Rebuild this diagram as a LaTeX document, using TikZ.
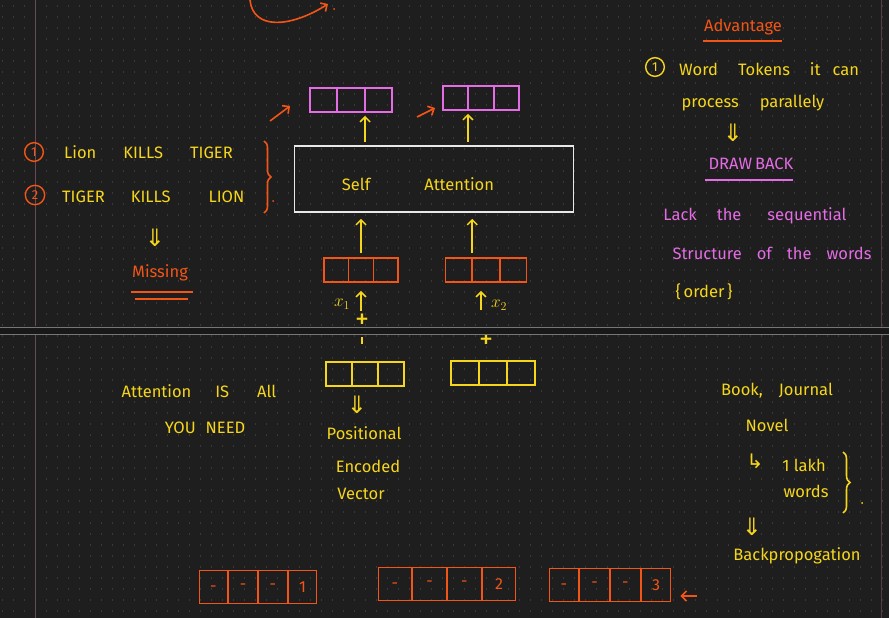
\documentclass[tikz,border=0pt]{standalone}
\usepackage{fontspec}
\setmainfont{Fira Sans}
\newfontfamily\symfont{DejaVu Sans}
\usetikzlibrary{positioning,arrows.meta,decorations.pathreplacing,shapes.multipart}
\definecolor{PadBg}{RGB}{30,30,30}
\definecolor{PadDot}{RGB}{56,56,56}
\definecolor{PadRule}{RGB}{118,118,118}
\definecolor{PadMargin}{RGB}{104,74,88}
\definecolor{PenYellow}{RGB}{246,214,28}
\definecolor{PenOrange}{RGB}{242,85,22}
\definecolor{PenPink}{RGB}{228,108,228}
\definecolor{PenWhite}{RGB}{232,232,232}

\begin{document}
\begin{tikzpicture}[
x=1pt,y=-1pt,
txt/.style={inner sep=0pt,text=PenYellow,font=\fontsize{16.5}{19}\selectfont},
otxt/.style={txt,text=PenOrange},
ptxt/.style={txt,text=PenPink},
dn/.style={txt,font=\symfont\fontsize{24}{26}\selectfont},
plus/.style={txt,font=\fontsize{28}{30}\selectfont},
vec/.style={rectangle split,rectangle split horizontal,rectangle split parts=3,draw,line width=1.8pt,inner sep=0pt,rectangle split empty part width=#1,rectangle split empty part height=12pt,rectangle split empty part depth=12pt},
vec/.default=20pt,
posvec/.style={rectangle split,rectangle split horizontal,rectangle split parts=4,draw=PenOrange,line width=1.7pt,text=PenOrange,text width=#1,align=center,inner xsep=3pt,inner ysep=10pt,text height=11pt,text depth=2pt,font=\fontsize{16}{18}\selectfont},
posvec/.default=22pt,
num/.style={circle,draw,line width=1.4pt,inner sep=3pt,font=\fontsize{13}{14}\selectfont},
yarrow/.style={-{Straight Barb[length=5pt,width=10pt]},line width=1.5pt,draw=PenYellow},
oarrow/.style={-{Straight Barb[length=5pt,width=10pt]},line width=1.6pt,draw=PenOrange},
uline/.style={line width=1.6pt},
curly/.style={decorate,decoration={brace,amplitude=7pt},line width=1.6pt}
]
% page
\useasboundingbox (0,0) rectangle (889,618);
\fill[PadBg] (0,0) rectangle (889,618);
\foreach \gy in {6,17,...,618}
  \draw[PadDot,line width=1.3pt,dash pattern=on 1.3pt off 9.7pt] (2,\gy) -- (889,\gy);
\draw[PadMargin,line width=1pt] (35,0) -- (35,326) (35,335) -- (35,618);
\draw[PadMargin!70!PadBg,line width=1pt] (881,0) -- (881,618);

% top stroke
\coordinate (tc0) at (250,0);
\coordinate (tc1) at (328,4);
\draw[oarrow] (tc0) .. controls (253,30) and (290,28) .. (tc1);
\fill[PenOrange] (334,9) circle (1pt);

% word order example
\node[num,draw=PenOrange,text=PenOrange] (c1) at (34,152) {1};
\node[txt,anchor=west] (s1) at (64,152) {Lion\hspace{27pt}KILLS\hspace{27pt}TIGER};
\node[num,draw=PenOrange,text=PenOrange] (c2) at (35,195) {2};
\node[txt,anchor=west] (s2) at (62,197) {TIGER\hspace{26pt}KILLS\hspace{38pt}LION};
\draw[curly,PenOrange] (264,141) -- (264,213);
\fill[PenOrange] (273,201) circle (1pt);
\node[dn] (d1) at (155,238) {⇓};
\node[otxt] (miss) at (160,273) {Missing};
\draw[uline,PenOrange] (131,292) -- (193,292);
\draw[uline,PenOrange] (135,299) -- (188,299);

% self attention block
\node[draw=PenWhite,line width=1.6pt,minimum width=279pt,minimum height=66pt,inner sep=0pt] (sa) at (434,179) {};
\node[txt] (satxt) at (418,184) {Self\hspace{54pt}Attention};
\node[vec=21pt,draw=PenPink] (pk1) at (351,100) {};
\node[vec=19pt,draw=PenPink] (pk2) at (481,98) {};
\draw[yarrow,shorten <=3pt,shorten >=3pt] (sa.north -| pk1.two split south) -- (pk1.two split south);
\draw[yarrow,shorten <=3pt,shorten >=3pt] (sa.north -| pk2.one split south) -- (pk2.one split south);
\coordinate (oa1) at (270,121);
\coordinate (ob1) at (290,106);
\draw[oarrow] (oa1) -- (ob1);
\coordinate (oa2) at (417,117);
\coordinate (ob2) at (435,108);
\draw[oarrow] (oa2) -- (ob2);

% inputs
\node[vec=18pt,draw=PenOrange] (or1) at (361,270) {};
\node[vec=20.5pt,draw=PenOrange] (or2) at (486,270) {};
\draw[yarrow,shorten <=4pt,shorten >=6pt] (or1.north) -- (or1.north |- sa.south);
\draw[yarrow,shorten <=4pt,shorten >=6pt] (or2.one split north) -- (or2.one split north |- sa.south);
\coordinate (x1foot) at (361,311);
\draw[yarrow,shorten >=8pt] (x1foot) -- (x1foot |- or1.south);
\node[txt] (x1) at (342,304) {$x_1$};
\coordinate (x2foot) at (481,310);
\draw[yarrow,shorten >=8pt] (x2foot) -- (x2foot |- or2.south);
\node[txt] (x2) at (499,305) {$x_2$};
\node[plus] (pl1) at (362,321) {+};
\draw[PenYellow,line width=1.4pt] (362,337) -- (362,344);
\node[plus] (pl2) at (486,341) {+};

% page break
\fill[PadBg!80!black] (0,327) rectangle (889,334);
\draw[PadRule,line width=1pt] (0,327) -- (889,327) (0,334) -- (889,334);

% positional vectors
\node[vec=19.5pt,draw=PenYellow] (yl1) at (365,374) {};
\node[vec=21.5pt,draw=PenYellow] (yl2) at (493,373) {};
\node[dn] (d2) at (357,405) {⇓};
\node[txt] (pos) at (364,433) {Positional};
\node[txt] (enc) at (368,466) {Encoded};
\node[txt] (vct) at (361,494) {Vector};

\node[txt] (aiayn) at (199,391) {Attention\hspace{24pt}IS\hspace{28pt}All};
\node[txt] (need) at (205,428) {YOU\hspace{10pt}NEED};

% advantage / drawback
\node[otxt] (adv) at (743,27) {Advantage};
\draw[uline,PenOrange] (703,41) -- (782,41);
\node[num,draw=PenYellow,text=PenYellow] (c3) at (655,67) {1};
\node[txt,anchor=west] (adv1) at (679,69) {Word\hspace{20pt}Tokens\hspace{20pt}it\hspace{12pt}can};
\node[txt] (adv2) at (753,103) {process\hspace{21pt}parallely};
\node[dn] (d3) at (733,133) {⇓};
\node[ptxt] (dback) at (751,164) {DRAW\hspace{3pt}BACK};
\draw[uline,PenPink] (705,180) -- (793,180);
\node[ptxt] (lack1) at (755,216) {Lack\hspace{20pt}the\hspace{26pt}sequential};
\node[ptxt] (lack2) at (772,253) {Structure\hspace{15pt}of\hspace{15pt}the\hspace{15pt}words};
\node[txt] (order) at (704,292) {\{\,order\,\}};

% long documents
\node[txt] (book) at (777,391) {Book,\hspace{16pt}Journal};
\node[txt] (novel) at (767,425) {Novel};
\node[txt,font=\symfont\fontsize{20}{22}\selectfont] (hook) at (755,461) {↳};
\node[txt] (lakh) at (804,465) {1 lakh};
\node[txt] (words) at (806,491) {words};
\draw[curly,PenYellow] (843,452) -- (843,513);
\fill[PenYellow] (862,503) circle (1pt);
\node[dn] (d4) at (752,527) {⇓};
\node[txt] (bprop) at (797,556) {Backpropogation};

% position slots
\node[posvec] (pe1) at (258,587) {-\nodepart{two}-\nodepart{three}-\nodepart{four}1};
\node[posvec=27pt] (pe2) at (447,584) {-\nodepart{two}-\nodepart{three}-\nodepart{four}2};
\node[posvec=23pt] (pe3) at (610,585) {-\nodepart{two}-\nodepart{three}-\nodepart{four}3};
\coordinate (cur) at (697,596);
\draw[oarrow,shorten >=9pt] (cur) -- (cur -| pe3.east);
\end{tikzpicture}
\end{document}
